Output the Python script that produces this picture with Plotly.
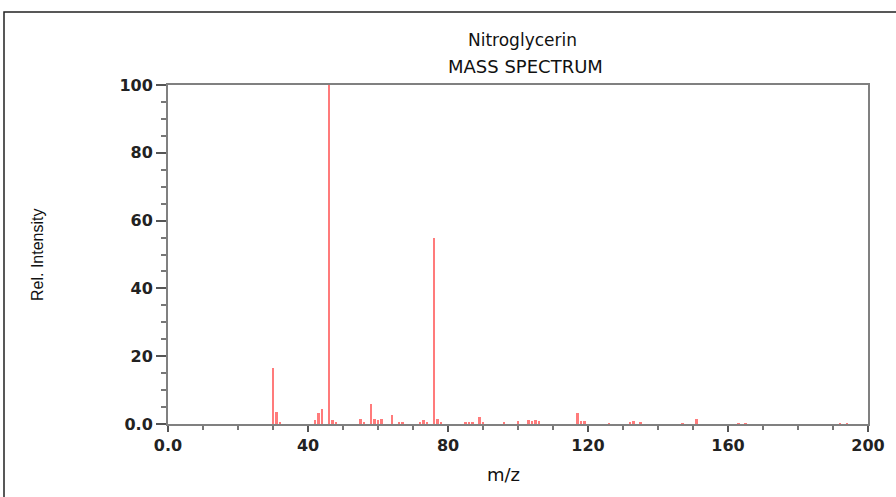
import plotly.graph_objects as go

# m/z values and relative intensities
mz = [30, 31, 32, 42, 43, 44, 46, 47, 48, 55, 56, 58, 59, 60, 61, 64, 66, 67,
      72, 73, 74, 76, 77, 78, 85, 86, 87, 89, 90, 96, 100, 103, 104, 105, 106,
      117, 118, 119, 126, 132, 133, 135, 147, 151, 163, 165, 192, 194]
intensity = [16.5, 3.6, 0.6, 1.2, 3.2, 4.4, 100, 1.2, 0.6, 1.4, 0.5, 5.8, 1.4, 1.2, 1.6, 2.8, 0.6, 0.5,
             0.6, 1.3, 0.6, 55, 1.6, 0.6, 0.6, 0.7, 0.6, 2.0, 0.5, 0.5, 0.8, 1.2, 1.0, 1.2, 0.8,
             3.2, 1.0, 0.8, 0.3, 0.6, 0.8, 0.5, 0.4, 1.4, 0.4, 0.4, 0.4, 0.4]

x_ticks = [0, 40, 80, 120, 160, 200]
x_tick_labels = ["0.0", "40", "80", "120", "160", "200"]
y_ticks = [0, 20, 40, 60, 80, 100]
y_tick_labels = ["0.0", "20", "40", "60", "80", "100"]

W, H = 896, 497
# plot area in screen pixels: x 168..868, y 85..424
SL, SR, ST, SB = 168, 868, 85, 424
L, T, R, B = SL, ST, W - SR, H - SB
PW, PH = W - L - R, H - T - B

def px(xs):
    return (xs - L) / PW

def py(ys):
    return (H - B - ys) / PH

fig = go.Figure()
fig.add_trace(go.Bar(
    x=mz, y=intensity, width=0.85,
    marker=dict(color="rgba(255,90,90,0.8)", line=dict(width=0)),
    hoverinfo="x+y",
))

axis_font = dict(family="DejaVu Sans", size=16, color="#222", weight="bold")
fig.update_layout(
    width=W, height=H,
    margin=dict(l=L, r=R, t=T, b=B, autoexpand=False),
    paper_bgcolor="white", plot_bgcolor="white",
    showlegend=False, bargap=0,
    xaxis=dict(
        range=[0, 200], tickvals=x_ticks, ticktext=x_tick_labels, automargin=False,
        showgrid=False, zeroline=False, showline=True, linecolor="#808080", linewidth=2,
        mirror=True, ticks="outside", ticklen=6, tickwidth=2, tickcolor="#555",
        tickfont=axis_font,
        minor=dict(dtick=10, ticks="outside", ticklen=4, tickwidth=1.5, tickcolor="#777"),
    ),
    yaxis=dict(
        range=[0, 100], tickvals=y_ticks, ticktext=y_tick_labels, automargin=False,
        showgrid=False, zeroline=False, showline=True, linecolor="#808080", linewidth=2,
        mirror=True, ticks="outside", ticklen=10, tickwidth=2, tickcolor="#555",
        tickfont=axis_font,
        minor=dict(dtick=5, ticks="outside", ticklen=5, tickwidth=1.5, tickcolor="#777"),
    ),
    annotations=[
        dict(text="Nitroglycerin", xref="paper", yref="paper", x=px(522), y=py(40),
             showarrow=False, xanchor="center", yanchor="middle",
             font=dict(family="DejaVu Sans", size=17, color="#111")),
        dict(text="MASS SPECTRUM", xref="paper", yref="paper", x=px(525), y=py(67),
             showarrow=False, xanchor="center", yanchor="middle",
             font=dict(family="DejaVu Sans", size=18, color="#111")),
        dict(text="m/z", xref="paper", yref="paper", x=px(503), y=py(474),
             showarrow=False, xanchor="center", yanchor="middle",
             font=dict(family="DejaVu Sans", size=18, color="#111")),
        dict(text="Rel. Intensity", xref="paper", yref="paper", x=px(37), y=py(255),
             showarrow=False, xanchor="center", yanchor="middle", textangle=-90,
             font=dict(family="Liberation Sans", size=16, color="#111")),
    ],
    shapes=[dict(
        type="rect", xref="paper", yref="paper",
        x0=px(4), x1=px(905), y0=py(510), y1=py(12),
        line=dict(color="#222", width=1.5), fillcolor="rgba(0,0,0,0)", layer="below",
    )],
)

fig.write_html("out.html", config={"displayModeBar": False},
               post_script="document.body.style.margin='0';")
